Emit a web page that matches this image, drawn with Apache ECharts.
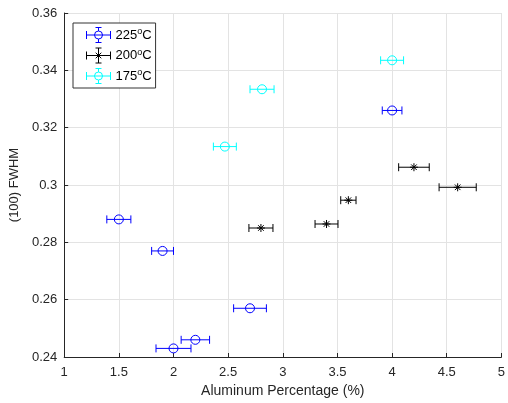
<!DOCTYPE html>
<html>
<head>
<meta charset="utf-8">
<script src="https://cdn.jsdelivr.net/npm/echarts@6/dist/echarts.min.js"></script>
<style>html,body{margin:0;padding:0;background:#fff}#c{width:508px;height:403px}</style>
</head>
<body>
<div id="c"></div>
<script>
// Data
var seriesNames = ['225°C', '200°C', '175°C'];
var blueX = [1.5, 1.9, 2.7, 2.2, 2.0, 4.0];
var blueY = [0.288, 0.277, 0.257, 0.246, 0.243, 0.326];
var blueErr = [0.11, 0.10, 0.15, 0.13, 0.16, 0.09];
var blackX = [2.8, 3.4, 3.6, 4.2, 4.6];
var blackY = [0.285, 0.2864, 0.2947, 0.3062, 0.2992];
var blackErr = [0.11, 0.105, 0.07, 0.14, 0.17];
var cyanX = [2.47, 2.81, 4.0];
var cyanY = [0.3134, 0.3334, 0.3435];
var cyanErr = [0.105, 0.11, 0.105];
var xTicks = [1, 1.5, 2, 2.5, 3, 3.5, 4, 4.5, 5];
var yTicks = [0.24, 0.26, 0.28, 0.30, 0.32, 0.34, 0.36];

var colors = ['#0000ff', '#000000', '#00ffff'];
var FONT = 'Liberation Sans, Arial, Helvetica, sans-serif';

function pts(xs, ys) { return xs.map(function (x, i) { return [x, ys[i]]; }); }
function errs(xs, ys, es) { return xs.map(function (x, i) { return [x, ys[i], x - es[i], x + es[i]]; }); }

function errRender(color) {
  return function (params, api) {
    var y = api.value(1);
    var p1 = api.coord([api.value(2), y]);
    var p2 = api.coord([api.value(3), y]);
    var c = 4;
    var st = { stroke: color, lineWidth: 1, fill: null };
    return {
      type: 'group',
      children: [
        { type: 'line', shape: { x1: p1[0], y1: p1[1], x2: p2[0], y2: p2[1] }, style: st },
        { type: 'line', shape: { x1: p1[0], y1: p1[1] - c, x2: p1[0], y2: p1[1] + c }, style: st },
        { type: 'line', shape: { x1: p2[0], y1: p2[1] - c, x2: p2[0], y2: p2[1] + c }, style: st }
      ]
    };
  };
}

var starPath = 'path://M10,0L10,20M0,10L20,10M3,3L17,17M3,17L17,3';
var circleIcon = 'path://M0,3.5L0,11.5M0,7.5L24,7.5M24,3.5L24,11.5M12,0L12,3.5M9,0L15,0M12,11.5L12,15M9,15L15,15M16,7.5A4,4,0,1,1,8,7.5A4,4,0,1,1,16,7.5Z';
var starIcon = 'path://M0,3.5L0,11.5M0,7.5L24,7.5M24,3.5L24,11.5M12,0L12,15M9,0L15,0M9,15L15,15M9.2,4.7L14.8,10.3M9.2,10.3L14.8,4.7';

var markerSeries = [
  { d: pts(blueX, blueY), sym: 'circle', size: 9 },
  { d: pts(blackX, blackY), sym: starPath, size: 8 },
  { d: pts(cyanX, cyanY), sym: 'circle', size: 9 }
];
var errData = [errs(blueX, blueY, blueErr), errs(blackX, blackY, blackErr), errs(cyanX, cyanY, cyanErr)];

var series = [];
seriesNames.forEach(function (n, i) {
  series.push({
    name: n, type: 'custom', renderItem: errRender(colors[i]), data: errData[i],
    encode: { x: 0, y: 1 }, silent: true, z: 2
  });
  series.push({
    name: n, type: 'scatter', data: markerSeries[i].d, symbol: markerSeries[i].sym,
    symbolSize: markerSeries[i].size,
    itemStyle: { color: 'rgba(0,0,0,0)', borderColor: colors[i], borderWidth: 1, opacity: 1 },
    z: 3
  });
});

var chart = echarts.init(document.getElementById('c'), null, { renderer: 'canvas' });
chart.setOption({
  animation: false,
  backgroundColor: '#fff',
  grid: { left: 63, right: 5, top: 13, bottom: 43, containLabel: false },
  xAxis: {
    type: 'value', min: xTicks[0], max: xTicks[xTicks.length - 1], interval: 0.5,
    name: 'Aluminum Percentage (%)', nameLocation: 'middle', nameGap: 27,
    nameTextStyle: { fontFamily: FONT, fontSize: 14, color: '#262626' },
    axisLine: { show: true, lineStyle: { color: '#262626', width: 1 } },
    axisTick: { show: true, inside: true, length: 4, lineStyle: { color: '#262626' } },
    axisLabel: { fontFamily: FONT, fontSize: 13, color: '#262626', margin: 9 },
    splitLine: { show: true, lineStyle: { color: '#e3e3e3', width: 1 } }
  },
  yAxis: {
    type: 'value', min: yTicks[0], max: yTicks[yTicks.length - 1], interval: 0.02,
    name: '(100) FWHM', nameLocation: 'middle', nameGap: 41,
    nameTextStyle: { fontFamily: FONT, fontSize: 13, color: '#262626' },
    axisLine: { show: true, lineStyle: { color: '#262626', width: 1 } },
    axisTick: { show: true, inside: true, length: 4, lineStyle: { color: '#262626' } },
    axisLabel: { fontFamily: FONT, fontSize: 13, color: '#262626', margin: 7,
      formatter: function (v) { return String(+v.toFixed(2)); } },
    splitLine: { show: true, lineStyle: { color: '#e3e3e3', width: 1 } }
  },
  legend: {
    orient: 'vertical', left: 73, top: 23,
    padding: [4, 4, 4, 13], itemGap: 4.5, itemWidth: 24, itemHeight: 15, itemTextGap: 12,
    backgroundColor: '#fff', borderColor: '#333', borderWidth: 1,
    data: seriesNames.map(function (n, i) {
      return { name: n, icon: i === 1 ? starIcon : circleIcon,
        itemStyle: { color: 'rgba(0,0,0,0)', borderColor: colors[i], borderWidth: 1 } };
    }),
    formatter: function (name) {
      var p = name.split('°');
      return '{n|' + p[0] + '}{s|o}{n|' + p[1] + '}';
    },
    textStyle: {
      fontFamily: FONT, color: '#000',
      rich: {
        n: { fontFamily: FONT, fontSize: 13, color: '#000', lineHeight: 15 },
        s: { fontFamily: FONT, fontSize: 9, color: '#000', verticalAlign: 'top', lineHeight: 15, padding: [0, 0, 6, 0] }
      }
    }
  },
  series: series
});
</script>
</body>
</html>
